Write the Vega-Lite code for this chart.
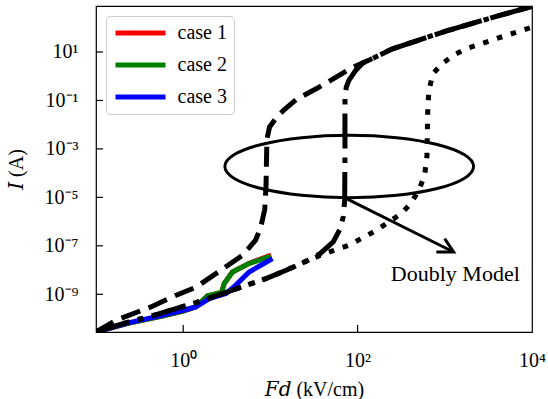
{
  "$schema": "https://vega.github.io/schema/vega-lite/v6.json",
  "width": 436,
  "height": 326,
  "autosize": {"type": "none"},
  "padding": {"left": 96, "top": 6, "right": 16, "bottom": 67},
  "background": "white",
  "config": {
    "view": {"stroke": "black", "strokeWidth": 1.2},
    "font": "Liberation Serif"
  },
  "datasets": {
    "curves": [
      {"s": "case 1", "i": 1, "x": 0.1, "y": 2.818e-11},
      {"s": "case 1", "i": 2, "x": 0.2399, "y": 6.457e-11},
      {"s": "case 1", "i": 3, "x": 0.5754, "y": 1.259e-10},
      {"s": "case 1", "i": 4, "x": 1.0, "y": 2.042e-10},
      {"s": "case 1", "i": 5, "x": 1.396, "y": 3.02e-10},
      {"s": "case 1", "i": 6, "x": 1.905, "y": 8.71e-10},
      {"s": "case 1", "i": 7, "x": 2.754, "y": 1.202e-9},
      {"s": "case 1", "i": 8, "x": 2.951, "y": 2.754e-9},
      {"s": "case 1", "i": 9, "x": 3.673, "y": 8.318e-9},
      {"s": "case 1", "i": 10, "x": 5.702, "y": 1.905e-8},
      {"s": "case 1", "i": 11, "x": 10.23, "y": 4.169e-8},
      {"s": "case 2", "i": 1, "x": 0.1, "y": 2.818e-11},
      {"s": "case 2", "i": 2, "x": 0.2399, "y": 6.457e-11},
      {"s": "case 2", "i": 3, "x": 0.5754, "y": 1.259e-10},
      {"s": "case 2", "i": 4, "x": 1.0, "y": 2.042e-10},
      {"s": "case 2", "i": 5, "x": 1.396, "y": 3.02e-10},
      {"s": "case 2", "i": 6, "x": 1.905, "y": 8.71e-10},
      {"s": "case 2", "i": 7, "x": 2.754, "y": 1.202e-9},
      {"s": "case 2", "i": 8, "x": 2.951, "y": 2.754e-9},
      {"s": "case 2", "i": 9, "x": 3.673, "y": 8.318e-9},
      {"s": "case 2", "i": 10, "x": 5.702, "y": 1.862e-8},
      {"s": "case 2", "i": 11, "x": 10.12, "y": 3.802e-8},
      {"s": "case 3", "i": 1, "x": 0.1, "y": 2.818e-11},
      {"s": "case 3", "i": 2, "x": 0.2399, "y": 6.761e-11},
      {"s": "case 3", "i": 3, "x": 0.5754, "y": 1.349e-10},
      {"s": "case 3", "i": 4, "x": 1.0, "y": 2.188e-10},
      {"s": "case 3", "i": 5, "x": 1.396, "y": 3.02e-10},
      {"s": "case 3", "i": 6, "x": 1.995, "y": 6.607e-10},
      {"s": "case 3", "i": 7, "x": 3.09, "y": 1.072e-9},
      {"s": "case 3", "i": 8, "x": 3.981, "y": 2.344e-9},
      {"s": "case 3", "i": 9, "x": 5.702, "y": 8.318e-9},
      {"s": "case 3", "i": 10, "x": 7.943, "y": 1.66e-8},
      {"s": "case 3", "i": 11, "x": 10.57, "y": 2.951e-8},

      {"s": "dashed", "i": 1, "x": 0.1, "y": 2.818e-11},
      {"s": "dashed", "i": 2, "x": 0.1698, "y": 8.511e-11},
      {"s": "dashed", "i": 3, "x": 0.4266, "y": 3.02e-10},
      {"s": "dashed", "i": 4, "x": 0.8318, "y": 9.12e-10},
      {"s": "dashed", "i": 5, "x": 1.413, "y": 1.995e-9},
      {"s": "dashed", "i": 6, "x": 2.692, "y": 9.772e-9},
      {"s": "dashed", "i": 7, "x": 4.786, "y": 4.074e-8},
      {"s": "dashed", "i": 8, "x": 6.761, "y": 1.698e-7},
      {"s": "dashed", "i": 9, "x": 7.762, "y": 6.026e-7},
      {"s": "dashed", "i": 10, "x": 8.61, "y": 3.162e-6},
      {"s": "dashed", "i": 11, "x": 8.913, "y": 3.162e-5},
      {"s": "dashed", "i": 12, "x": 9.016, "y": 3.162e-4},
      {"s": "dashed", "i": 13, "x": 9.12, "y": 2.512e-3},
      {"s": "dashed", "i": 14, "x": 9.772, "y": 7.943e-3},
      {"s": "dashed", "i": 15, "x": 11.75, "y": 1.995e-2},
      {"s": "dashed", "i": 16, "x": 14.13, "y": 3.89e-2},
      {"s": "dashed", "i": 17, "x": 19.95, "y": 0.1122},
      {"s": "dashed", "i": 18, "x": 33.88, "y": 0.309},
      {"s": "dashed", "i": 19, "x": 89.13, "y": 2.399},
      {"s": "dashed", "i": 20, "x": 138.0, "y": 4.786},
      {"s": "dashed", "i": 21, "x": 251.2, "y": 13.49},
      {"s": "dashed", "i": 22, "x": 512.9, "y": 31.62},
      {"s": "dashed", "i": 23, "x": 1047, "y": 74.13},
      {"s": "dashed", "i": 24, "x": 4266, "y": 323.6},
      {"s": "dashed", "i": 25, "x": 10000, "y": 758.6},

      {"s": "dashdot", "i": 1, "x": 0.1, "y": 2.818e-11},
      {"s": "dashdot", "i": 2, "x": 0.2042, "y": 6.166e-11},
      {"s": "dashdot", "i": 3, "x": 0.4898, "y": 1.445e-10},
      {"s": "dashdot", "i": 4, "x": 1.413, "y": 4.571e-10},
      {"s": "dashdot", "i": 5, "x": 2.818, "y": 1.072e-9},
      {"s": "dashdot", "i": 6, "x": 8.913, "y": 4.467e-9},
      {"s": "dashdot", "i": 7, "x": 15.14, "y": 9.772e-9},
      {"s": "dashdot", "i": 8, "x": 26.3, "y": 2.399e-8},
      {"s": "dashdot", "i": 9, "x": 37.15, "y": 4.786e-8},
      {"s": "dashdot", "i": 10, "x": 52.48, "y": 1.445e-7},
      {"s": "dashdot", "i": 11, "x": 63.1, "y": 5.012e-7},
      {"s": "dashdot", "i": 12, "x": 68.39, "y": 1.585e-6},
      {"s": "dashdot", "i": 13, "x": 71.12, "y": 7.586e-6},
      {"s": "dashdot", "i": 14, "x": 71.61, "y": 1e-3},
      {"s": "dashdot", "i": 15, "x": 71.61, "y": 0.1259},
      {"s": "dashdot", "i": 16, "x": 74.13, "y": 0.3548},
      {"s": "dashdot", "i": 17, "x": 79.43, "y": 0.6761},
      {"s": "dashdot", "i": 18, "x": 95.5, "y": 1.778},
      {"s": "dashdot", "i": 19, "x": 114.8, "y": 3.548},
      {"s": "dashdot", "i": 20, "x": 138.0, "y": 4.786},
      {"s": "dashdot", "i": 21, "x": 251.2, "y": 13.49},
      {"s": "dashdot", "i": 22, "x": 512.9, "y": 31.62},
      {"s": "dashdot", "i": 23, "x": 1047, "y": 74.13},
      {"s": "dashdot", "i": 24, "x": 4266, "y": 323.6},
      {"s": "dashdot", "i": 25, "x": 10000, "y": 758.6},

      {"s": "dotted", "i": 1, "x": 0.1, "y": 2.818e-11},
      {"s": "dotted", "i": 2, "x": 0.2042, "y": 6.166e-11},
      {"s": "dotted", "i": 3, "x": 0.4898, "y": 1.445e-10},
      {"s": "dotted", "i": 4, "x": 1.413, "y": 4.571e-10},
      {"s": "dotted", "i": 5, "x": 2.818, "y": 1.072e-9},
      {"s": "dotted", "i": 6, "x": 8.913, "y": 4.467e-9},
      {"s": "dotted", "i": 7, "x": 15.14, "y": 9.772e-9},
      {"s": "dotted", "i": 8, "x": 26.3, "y": 2.399e-8},
      {"s": "dotted", "i": 9, "x": 39.81, "y": 4.467e-8},
      {"s": "dotted", "i": 10, "x": 79.43, "y": 1.047e-7},
      {"s": "dotted", "i": 11, "x": 164.1, "y": 4.365e-7},
      {"s": "dotted", "i": 12, "x": 316.2, "y": 2.138e-6},
      {"s": "dotted", "i": 13, "x": 413.0, "y": 5.888e-6},
      {"s": "dotted", "i": 14, "x": 512.9, "y": 2.291e-5},
      {"s": "dotted", "i": 15, "x": 588.8, "y": 8.913e-5},
      {"s": "dotted", "i": 16, "x": 623.7, "y": 5.012e-4},
      {"s": "dotted", "i": 17, "x": 631.0, "y": 5.012e-3},
      {"s": "dotted", "i": 18, "x": 638.3, "y": 5.012e-2},
      {"s": "dotted", "i": 19, "x": 653.1, "y": 0.1778},
      {"s": "dotted", "i": 20, "x": 676.1, "y": 0.3981},
      {"s": "dotted", "i": 21, "x": 731.1, "y": 1.288},
      {"s": "dotted", "i": 22, "x": 955.0, "y": 3.548},
      {"s": "dotted", "i": 23, "x": 1288, "y": 7.762},
      {"s": "dotted", "i": 24, "x": 1778, "y": 13.8},
      {"s": "dotted", "i": 25, "x": 3890, "y": 35.48},
      {"s": "dotted", "i": 26, "x": 8128, "y": 83.18},
      {"s": "dotted", "i": 27, "x": 10000, "y": 104.7}
    ],
    "ellipse": [
      {"i": 0, "x": 2138, "y": 1.879e-4},
      {"i": 1, "x": 1666, "y": 5.846e-4},
      {"i": 2, "x": 817, "y": 1.53e-3},
      {"i": 3, "x": 281.6, "y": 2.911e-3},
      {"i": 4, "x": 80.2, "y": 3.648e-3},
      {"i": 5, "x": 22.82, "y": 2.911e-3},
      {"i": 6, "x": 7.865, "y": 1.53e-3},
      {"i": 7, "x": 3.859, "y": 5.846e-4},
      {"i": 8, "x": 3.006, "y": 1.879e-4},
      {"i": 9, "x": 3.859, "y": 6.04e-5},
      {"i": 10, "x": 7.865, "y": 2.309e-5},
      {"i": 11, "x": 22.82, "y": 1.213e-5},
      {"i": 12, "x": 80.2, "y": 9.68e-6},
      {"i": 13, "x": 281.6, "y": 1.213e-5},
      {"i": 14, "x": 817, "y": 2.309e-5},
      {"i": 15, "x": 1666, "y": 6.04e-5}
    ],
    "arrow": [
      {"seg": "shaft", "i": 0, "x": 74.47, "y": 8.913e-6},
      {"seg": "shaft", "i": 1, "x": 1262, "y": 5.572e-8},
      {"seg": "head", "i": 0, "x": 995.4, "y": 1.995e-7},
      {"seg": "head", "i": 1, "x": 1262, "y": 5.572e-8},
      {"seg": "head", "i": 2, "x": 799.8, "y": 5.572e-8}
    ],
    "ticks": [
      {"ax": "x", "x": 1, "y": 2.78e-11},
      {"ax": "x", "x": 100, "y": 2.78e-11},
      {"ax": "y", "x": 0.1, "y": 10},
      {"ax": "y", "x": 0.1, "y": 0.1},
      {"ax": "y", "x": 0.1, "y": 0.001},
      {"ax": "y", "x": 0.1, "y": 1e-5},
      {"ax": "y", "x": 0.1, "y": 1e-7},
      {"ax": "y", "x": 0.1, "y": 1e-9}
    ],
    "notes": [
      {"x": 1321, "y": 3.54e-9, "label": "Doubly Model"}
    ]
  },
  "encoding": {
    "x": {
      "field": "x", "type": "quantitative",
      "scale": {"type": "log", "domain": [0.1, 10000], "nice": false},
      "axis": {
        "values": [1, 100, 10000],
        "labelExpr": "datum.value < 10 ? '10⁰' : datum.value < 1000 ? '10²' : '10⁴'",
        "title": "𝐹𝑑 (kV/cm)",
        "grid": false, "domain": false, "ticks": false,
        "labelFont": "Liberation Serif", "labelFontSize": 20, "labelColor": "black",
        "labelFlush": false, "labelOverlap": false, "labelPadding": 18,
        "titleFont": "Liberation Serif, DejaVu Serif", "titleFontSize": 20, "titleFontWeight": "normal", "titleColor": "black",
        "titlePadding": 9
      }
    },
    "y": {
      "field": "y", "type": "quantitative",
      "scale": {"type": "log", "domain": [2.78e-11, 790.7], "nice": false},
      "axis": {
        "values": [10, 0.1, 0.001, 1e-5, 1e-7, 1e-9],
        "labelExpr": "datum.value > 1 ? '10¹' : datum.value > 0.01 ? '10⁻¹' : datum.value > 1e-4 ? '10⁻³' : datum.value > 1e-6 ? '10⁻⁵' : datum.value > 1e-8 ? '10⁻⁷' : '10⁻⁹'",
        "title": "𝐼 (A)",
        "grid": false, "domain": false, "ticks": false,
        "labelFont": "Liberation Serif", "labelFontSize": 20, "labelColor": "black",
        "labelFlush": false, "labelOverlap": false, "labelPadding": 18,
        "titleFont": "Liberation Serif, DejaVu Serif", "titleFontSize": 20, "titleFontWeight": "normal", "titleColor": "black",
        "titlePadding": 18
      }
    }
  },
  "layer": [
    {
      "data": {"name": "ticks"},
      "transform": [{"filter": "datum.ax === 'x'"}],
      "mark": {"type": "tick", "orient": "vertical", "color": "black", "size": 14, "thickness": 1.2, "opacity": 1, "clip": true}
    },
    {
      "data": {"name": "ticks"},
      "transform": [{"filter": "datum.ax === 'y'"}],
      "mark": {"type": "tick", "orient": "horizontal", "color": "black", "size": 14, "thickness": 1.2, "opacity": 1, "clip": true}
    },
    {
      "data": {"name": "curves"},
      "transform": [{"filter": "indexof(['case 1','case 2','case 3'], datum.s) >= 0"}],
      "mark": {"type": "line", "strokeWidth": 5, "clip": true},
      "encoding": {
        "order": {"field": "i", "type": "quantitative"},
        "color": {
          "field": "s", "type": "nominal",
          "scale": {"domain": ["case 1", "case 2", "case 3"], "range": ["#ff0000", "#008000", "#0000ff"]},
          "legend": {
            "orient": "none", "legendX": 10, "legendY": 10,
            "title": null,
            "symbolType": "M-5,0H5", "symbolSize": 100, "symbolStrokeWidth": 5,
            "symbolOffset": 17.5, "labelOffset": 27,
            "labelFont": "Liberation Serif", "labelFontSize": 20, "labelColor": "black",
            "padding": 7, "rowPadding": 12,
            "strokeColor": "#cccccc", "fillColor": "white", "cornerRadius": 4
          }
        }
      }
    },
    {
      "data": {"name": "curves"},
      "transform": [{"filter": "datum.s === 'dashed'"}],
      "mark": {"type": "line", "color": "black", "strokeWidth": 5, "strokeDash": [20, 9], "clip": true},
      "encoding": {"order": {"field": "i", "type": "quantitative"}}
    },
    {
      "data": {"name": "curves"},
      "transform": [{"filter": "datum.s === 'dashdot'"}],
      "mark": {"type": "line", "color": "black", "strokeWidth": 5, "strokeDash": [35, 9, 5.5, 9], "clip": true},
      "encoding": {"order": {"field": "i", "type": "quantitative"}}
    },
    {
      "data": {"name": "curves"},
      "transform": [{"filter": "datum.s === 'dotted'"}],
      "mark": {"type": "line", "color": "black", "strokeWidth": 5, "strokeDash": [5.5, 9], "clip": true},
      "encoding": {"order": {"field": "i", "type": "quantitative"}}
    },
    {
      "data": {"name": "ellipse"},
      "mark": {"type": "line", "color": "black", "strokeWidth": 3, "interpolate": "cardinal-closed", "clip": true},
      "encoding": {"order": {"field": "i", "type": "quantitative"}}
    },
    {
      "data": {"name": "arrow"},
      "mark": {"type": "line", "color": "black", "strokeWidth": 3, "clip": true},
      "encoding": {
        "detail": {"field": "seg", "type": "nominal"},
        "order": {"field": "i", "type": "quantitative"}
      }
    },
    {
      "data": {"name": "notes"},
      "mark": {"type": "text", "font": "Liberation Serif", "fontSize": 22, "align": "center", "baseline": "alphabetic", "color": "black"},
      "encoding": {"text": {"field": "label", "type": "nominal"}}
    }
  ]
}
